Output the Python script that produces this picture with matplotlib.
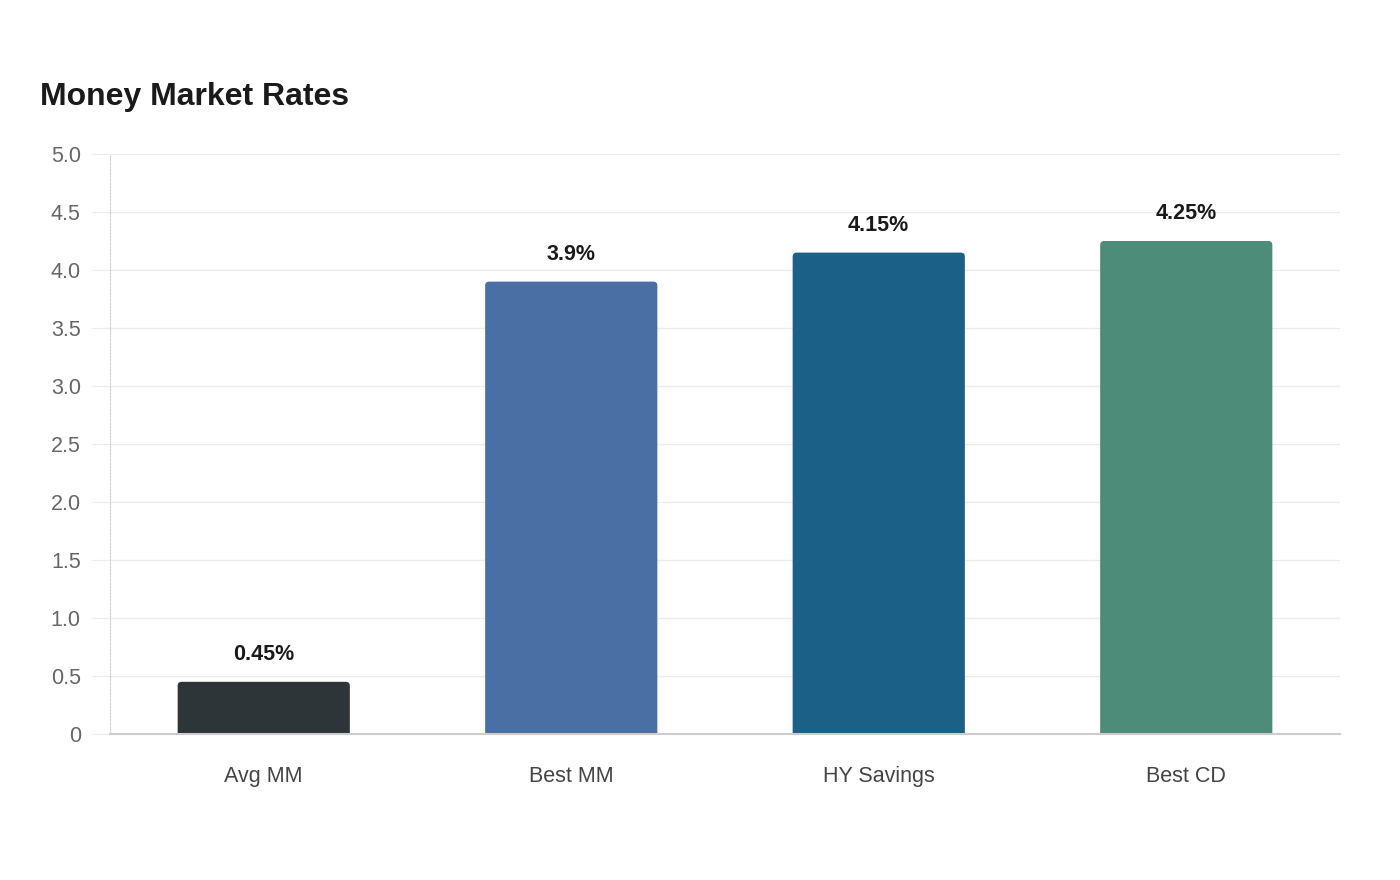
import matplotlib.pyplot as plt
from matplotlib.patches import FancyBboxPatch

categories = ["Avg MM", "Best MM", "HY Savings", "Best CD"]
rates = [0.45, 3.9, 4.15, 4.25]
labels = ["0.45%", "3.9%", "4.15%", "4.25%"]
colors = ["#2e3538", "#4a6fa5", "#1a6087", "#4e8c7a"]
yticks = [0, 0.5, 1.0, 1.5, 2.0, 2.5, 3.0, 3.5, 4.0, 4.5, 5.0]
ytick_labels = ["0", "0.5", "1.0", "1.5", "2.0", "2.5", "3.0", "3.5", "4.0", "4.5", "5.0"]

plt.rcParams['font.family'] = ['Liberation Sans', 'DejaVu Sans']

fig = plt.figure(figsize=(14, 8.8), dpi=100)
ax = fig.add_axes([110/1400, 1 - 734/880, 1230/1400, 580/880])

w = 0.56
for i, (v, c) in enumerate(zip(rates, colors)):
    # rounded box, bottom corners pushed below the axis and clipped
    ax.add_patch(FancyBboxPatch((i - w/2, -0.2), w, v + 0.2,
                                boxstyle="round,pad=0,rounding_size=0.013",
                                mutation_aspect=2.65, fc=c, ec="none", zorder=3))
    ax.annotate(labels[i], (i, v), xytext=(0, 12), textcoords="offset points",
                ha="center", va="bottom", fontsize=15.5, fontweight="bold", color="#1a1a1a")

ax.set_xlim(-0.5, 3.5)
ax.set_ylim(0, 5.0)
ax.set_xticks(range(len(categories)))
ax.set_xticklabels(categories)
ax.set_yticks(yticks)
ax.set_yticklabels(ytick_labels)

ax.grid(axis="y", color="#ebebeb", lw=1, zorder=0)
ax.tick_params(axis="y", length=13, color="#ebebeb", labelsize=15.5, labelcolor="#666666", pad=8)
ax.tick_params(axis="x", length=0, labelsize=15.5, labelcolor="#444444", pad=23)

for s in ["top", "right"]:
    ax.spines[s].set_visible(False)
ax.spines["bottom"].set_color("#cccccc")
ax.spines["bottom"].set_linewidth(1.5)
ax.spines["bottom"].set_zorder(4)
ax.spines["left"].set_color("#d0d0d0")
ax.spines["left"].set_linestyle((0, (1.5, 1.5)))
ax.spines["left"].set_linewidth(0.8)

fig.text(40/1400, 1 - 97/880, "Money Market Rates", fontsize=23, fontweight="bold",
         color="#1a1a1a", ha="left", va="center")

plt.savefig("out.png")
